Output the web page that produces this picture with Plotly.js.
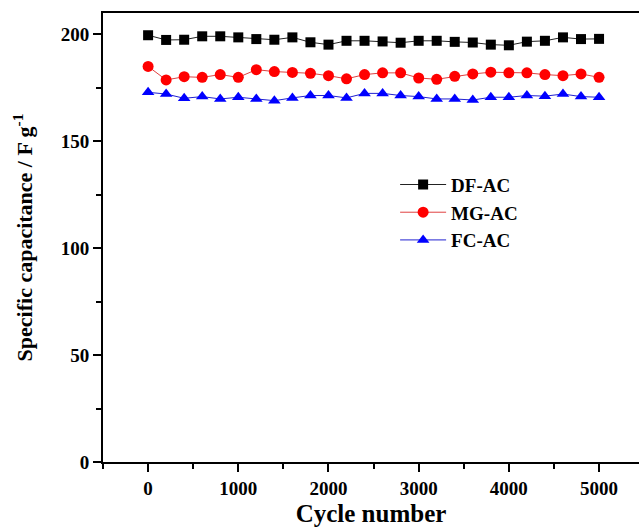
<!DOCTYPE html>
<html>
<head>
<meta charset="utf-8">
<script src="https://cdn.plot.ly/plotly-3.0.1.min.js"></script>
<style>
  html, body { margin: 0; padding: 0; background: #fff; }
  #chart { width: 639px; height: 527px; }
</style>
</head>
<body>
<div id="chart"></div>
<script>
// Cycle number (every 200 cycles)
const cycles = [0, 200, 400, 600, 800, 1000, 1200, 1400, 1600, 1800, 2000, 2200, 2400,
                2600, 2800, 3000, 3200, 3400, 3600, 3800, 4000, 4200, 4400, 4600, 4800, 5000];

// Specific capacitance (F g^-1)
const dfAC = [199.6, 197.4, 197.5, 199.1, 199.1, 198.6, 197.8, 197.5, 198.6, 196.3, 195.2, 197.0, 197.0,
              196.7, 196.1, 197.0, 197.0, 196.5, 196.2, 195.2, 194.9, 196.6, 197.0, 198.6, 197.8, 197.9];
const mgAC = [185.0, 178.7, 180.2, 179.9, 181.2, 179.9, 183.5, 182.6, 182.2, 181.8, 180.7, 179.2, 181.2,
              182.0, 182.0, 179.6, 179.0, 180.4, 181.5, 182.3, 182.0, 182.0, 181.2, 180.7, 181.5, 179.9];
const fcAC = [172.9, 172.1, 170.1, 170.9, 169.8, 170.6, 169.8, 169.0, 170.3, 171.4, 171.4, 170.3, 172.4,
              172.4, 171.4, 170.9, 169.8, 169.8, 169.3, 170.6, 170.6, 171.4, 171.1, 172.1, 170.9, 170.6];

const seriesNames = ['DF-AC', 'MG-AC', 'FC-AC'];

const serif = 'Liberation Serif, Times New Roman, serif';

function series(name, y, lineColor, markerColor, symbol, size) {
  return {
    x: cycles, y: y, name: name, type: 'scatter', mode: 'lines+markers',
    line: { color: lineColor, width: 1 },
    marker: { color: markerColor, symbol: symbol, size: size, line: { width: 0 } }
  };
}

const traces = [
  series(seriesNames[0], dfAC, '#222222', '#000000', 'square', 10),
  series(seriesNames[1], mgAC, '#e04040', '#ff0000', 'circle', 11),
  series(seriesNames[2], fcAC, '#2020d0', '#0000ff', 'triangle-up', 11)
];

const axisCommon = {
  showgrid: false, zeroline: false,
  showline: true, linecolor: '#000', linewidth: 2,
  ticks: 'outside', ticklen: 8, tickwidth: 2, tickcolor: '#000',
  tickfont: { family: serif, size: 19, color: '#000', weight: 'bold' }
};

const layout = {
  width: 639, height: 527,
  margin: { l: 103, r: 0, t: 13, b: 65 },
  paper_bgcolor: '#fff', plot_bgcolor: '#fff',
  showlegend: true,
  legend: {
    x: 0.545, y: 0.66, xanchor: 'left', yanchor: 'top',
    bgcolor: 'rgba(0,0,0,0)',
    font: { family: serif, size: 19, color: '#000', weight: 'bold' },
    itemwidth: 46, tracegroupgap: 0
  },
  xaxis: Object.assign({}, axisCommon, {
    range: [-500, 5443], mirror: true,
    tickvals: [0, 1000, 2000, 3000, 4000, 5000],
    minor: { dtick: 500, tick0: -500, ticks: 'outside', ticklen: 5, tickwidth: 2, tickcolor: '#000' },
    title: { text: 'Cycle number', standoff: 10,
             font: { family: serif, size: 25, color: '#000', weight: 'bold' } }
  }),
  yaxis: Object.assign({}, axisCommon, {
    range: [0, 210],
    tickvals: [0, 50, 100, 150, 200],
    minor: { dtick: 25, tick0: 0, ticks: 'outside', ticklen: 5, tickwidth: 2, tickcolor: '#000' },
    title: { text: 'Specific capacitance / F g<sup>-1</sup>', standoff: 22,
             font: { family: serif, size: 22, color: '#000', weight: 'bold' } }
  })
};

Plotly.newPlot('chart', traces, layout, { displayModeBar: false, staticPlot: true });
</script>
</body>
</html>
